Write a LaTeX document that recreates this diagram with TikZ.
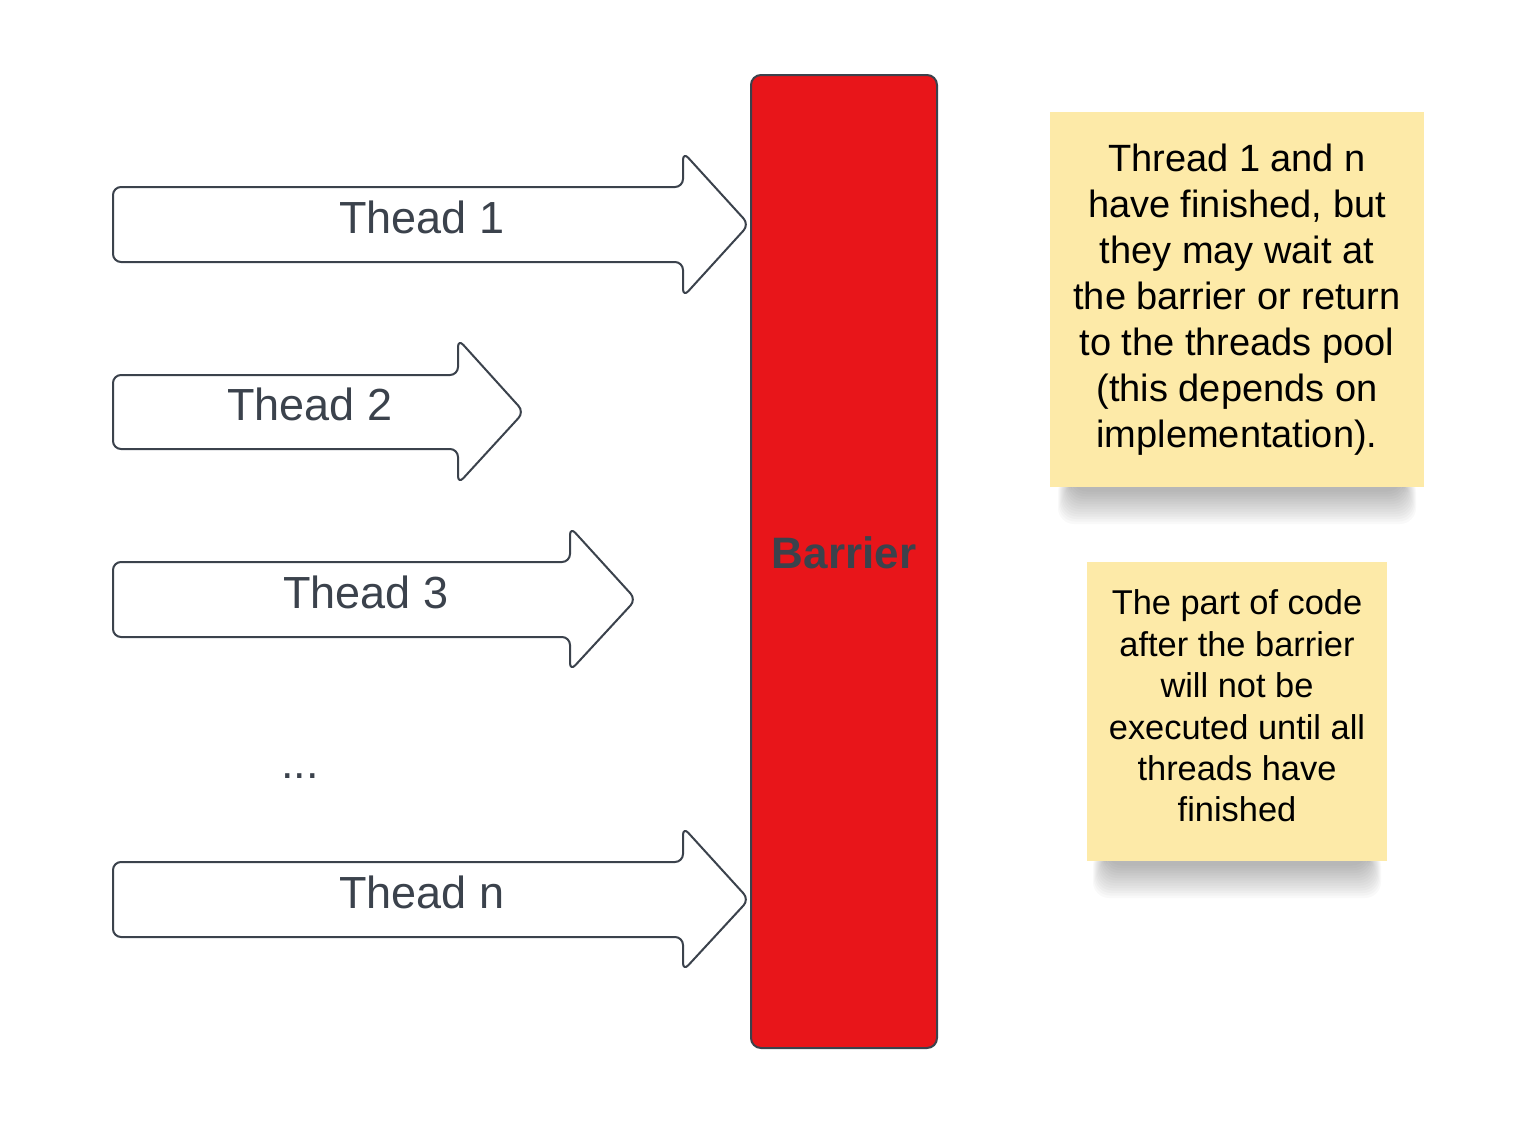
\documentclass[tikz,border=0pt]{standalone}
\usepackage{fontspec}
\setmainfont{Liberation Sans}
\usepackage{xcolor}

\definecolor{barrierred}{HTML}{E8151A}
\definecolor{noteyellow}{HTML}{FDEAA8}
\definecolor{darkline}{HTML}{3B424C}

\begin{document}
\begin{tikzpicture}[x=0.5pt, y=-0.5pt,
    threadarrow/.style={draw=darkline, line width=1pt, rounded corners=4pt, fill=white},
    threadlabel/.style={text=darkline, font=\fontsize{22.5}{27}\selectfont, inner sep=0pt},
    notelabel/.style={text=black, align=center, inner sep=0pt}]

    \useasboundingbox (0, 0) rectangle (1539, 1125);

    % Arrows of the threads
    \draw[threadarrow] (113, 187) -- (683, 187) -- (683, 152) -- (749, 224.5) -- (683, 297) -- (683, 262) -- (113, 262) -- cycle;
    \node[threadlabel] (t1) at (422, 217) {Thead 1};

    \draw[threadarrow] (113, 375) -- (458, 375) -- (458, 339) -- (524, 412) -- (458, 484) -- (458, 449) -- (113, 449) -- cycle;
    \node[threadlabel] (t2) at (310, 404) {Thead 2};

    \draw[threadarrow] (113, 562) -- (570, 562) -- (570, 527) -- (636, 599.5) -- (570, 671) -- (570, 637) -- (113, 637) -- cycle;
    \node[threadlabel] (t3) at (366, 592) {Thead 3};

    \node[threadlabel] (dots) at (300, 776) {...};

    \draw[threadarrow] (113, 862) -- (683, 862) -- (683, 827) -- (749, 899.5) -- (683, 971) -- (683, 937) -- (113, 937) -- cycle;
    \node[threadlabel] (tn) at (422, 892) {Thead n};

    % Barrier in the middle
    \draw[draw=darkline, line width=1pt, fill=barrierred, rounded corners=5pt] (751, 75) rectangle (937, 1048);
    \node[text=darkline, font=\fontsize{22}{26}\selectfont\bfseries, inner sep=0pt] (barrier) at (844, 553) {Barrier};

    % Sticky notes with their shadows
    \foreach \i in {0,...,13}
        \fill[black, opacity=0.022, rounded corners=8pt] (1058+\i, 476) rectangle (1416-\i, 524-2.5*\i);
    \fill[noteyellow] (1050, 112) rectangle (1424, 487);
    \node[notelabel, font=\fontsize{19}{23}\selectfont] (note1) at (1237, 300) {Thread 1 and n\\have finished, but\\they may wait at\\the barrier or return\\to the threads pool\\(this depends on\\implementation).};

    \foreach \i in {0,...,13}
        \fill[black, opacity=0.022, rounded corners=8pt] (1093+\i, 850) rectangle (1381-\i, 898-2.5*\i);
    \fill[noteyellow] (1087, 562) rectangle (1387, 861);
    \node[notelabel, font=\fontsize{17.2}{20.7}\selectfont] (note2) at (1237, 706) {The part of code\\after the barrier\\will not be\\executed until all\\threads have\\finished};

\end{tikzpicture}
\end{document}
